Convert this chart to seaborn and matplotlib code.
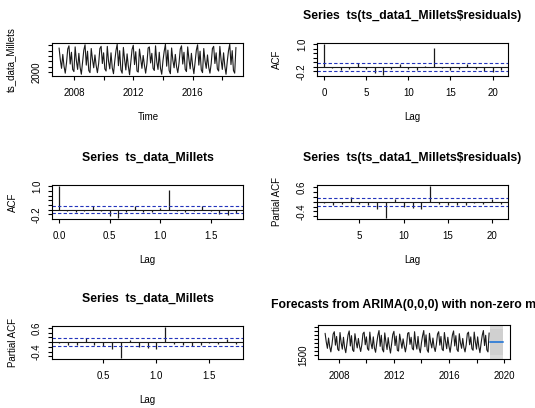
import numpy as np
import pandas as pd
import matplotlib
matplotlib.use("Agg")
import matplotlib.pyplot as plt
import seaborn as sns

# ---------------- data ----------------
start_year = 2007
freq = 12
millets = [
    4250, 3150, 2350, 3650, 2550, 1900, 2850, 4150, 4450, 2750, 3850, 2250, 2050,
    4350, 3050, 2250, 3750, 2450, 1800, 2950, 4050, 4550, 2650, 3950, 2150, 1950,
    4200, 3200, 2400, 3600, 2600, 1950, 2800, 4200, 4400, 2800, 3800, 2300, 2100,
    4400, 3000, 2300, 3800, 2400, 1850, 3000, 4000, 4600, 2600, 4000, 2200, 1900,
    4300, 3150, 2200, 3700, 2550, 1750, 2900, 4100, 4500, 2700, 3900, 2100, 2000,
    4150, 3250, 2350, 3550, 2650, 1900, 2750, 4250, 4350, 2850, 3750, 2350, 2150,
    4450, 2950, 2250, 3850, 2350, 1800, 3050, 3950, 4600, 2550, 4050, 2150, 1850,
    4250, 3100, 2400, 3650, 2500, 1950, 2850, 4150, 4450, 2750, 3850, 2250, 2050,
    4350, 3200, 2300, 3750, 2600, 1850, 2950, 4050, 4550, 2650, 3950, 2200, 1950,
    4200, 3050, 2350, 3600, 2450, 1900, 2800, 4200, 4400, 2800, 3800, 2300, 2100,
    4400, 3150, 2250, 3800, 2550, 1800, 3000, 4000, 4600, 2700, 4000, 2150, 1900,
    4300,
]
acf_lags = list(range(0, 22))
acf_vals = [1.0, -0.05, -0.12, -0.08, 0.15, -0.08, -0.28, -0.35, -0.10, 0.14, -0.10,
            -0.12, 0.05, 0.82, -0.05, -0.12, -0.08, 0.14, -0.08, -0.20, -0.22, -0.15]
pacf_lags = list(range(1, 22))
pacf_vals = [-0.05, -0.13, -0.10, 0.17, -0.10, -0.15, -0.30, -0.66, 0.10, -0.20, -0.25,
             -0.30, 0.63, -0.08, -0.12, -0.15, -0.12, -0.05, -0.08, 0.12, -0.08]
conf_limit = 0.163

fc_start = 2019
fc_h = 12
fc_mean = 3140
fc_lo80, fc_hi80 = 1500, 4800
fc_lo95, fc_hi95 = 700, 5600
fc_ylim = (1000, 5300)

titles = ["Series  ts(ts_data1_Millets$residuals)", "Series  ts_data_Millets",
          "Series  ts(ts_data1_Millets$residuals)", "Series  ts_data_Millets",
          "Forecasts from ARIMA(0,0,0) with non-zero mean"]

# ---------------- style ----------------
sns.set_style("ticks")
plt.rcParams['font.family'] = ['Liberation Sans', 'DejaVu Sans']
plt.rcParams['axes.linewidth'] = 0.8
plt.rcParams['text.color'] = 'black'
plt.rcParams['xtick.color'] = 'black'
plt.rcParams['ytick.color'] = 'black'
plt.rcParams['axes.edgecolor'] = 'black'

W, H = 535, 408
fig = plt.figure(figsize=(W / 100, H / 100), dpi=100)

def ax_at(x0, y0, x1, y1):
    return fig.add_axes([x0 / W, 1 - y1 / H, (x1 - x0) / W, (y1 - y0) / H])

def ftext(x, y, s, **kw):
    fig.text(x / W, 1 - y / H, s, ha='center', va='center', color='black', **kw)

TICK_FS = 7
LAB_FS = 7
TITLE_FS = 8.8

def r_range(vals):
    lo, hi = min(vals), max(vals)
    d = hi - lo
    return lo - 0.04 * d, hi + 0.04 * d

def style_ax(ax):
    for s in ax.spines.values():
        s.set_visible(True)
        s.set_color('black')
        s.set_linewidth(0.8)
    ax.tick_params(axis='both', direction='out', length=3.2, width=0.8, colors='black',
                   labelcolor='black', labelsize=TICK_FS, pad=5.5)
    ax.tick_params(axis='y', pad=4)
    for lab in ax.get_yticklabels():
        lab.set_rotation(90)
        lab.set_va('center')

def set_yt(ax, ticks, shown):
    ax.set_yticks(ticks)
    ax.set_yticklabels([shown.get(t, '') for t in ticks])

def set_xt(ax, ticks, shown):
    ax.set_xticks(ticks)
    ax.set_xticklabels([shown.get(t, '') for t in ticks])

time = start_year + np.arange(len(millets)) / freq
df = pd.DataFrame({'time': time, 'value': millets})

LEFT = (52, 243)
RIGHT = (317, 508)
ROWS = [(43, 76), (185, 219), (326, 359)]

# ---- Panel 1: time series ----
ax1 = ax_at(LEFT[0], ROWS[0][0], LEFT[1], ROWS[0][1])
sns.lineplot(data=df, x='time', y='value', ax=ax1, color='#1a1a1a', linewidth=0.8)
ax1.set_xlim(*r_range(list(time)))
ax1.set_ylim(*r_range(millets))
set_xt(ax1, [2008, 2010, 2012, 2014, 2016, 2018], {2008: '2008', 2012: '2012', 2016: '2016'})
set_yt(ax1, [2000, 2500, 3000, 3500, 4000, 4500], {2000: '2000'})
ax1.set_xlabel(''); ax1.set_ylabel('')
style_ax(ax1)
ftext(11, 60, 'ts_data_Millets', rotation=90, fontsize=LAB_FS)
ftext(148, 117, 'Time', fontsize=LAB_FS)

# ---- ACF / PACF panels ----
def acf_panel(x0x1, y0y1, lags, vals, title, ylabel, xticks, xshown, yticks, yshown, scale=1.0):
    ax = ax_at(x0x1[0], y0y1[0], x0x1[1], y0y1[1])
    lg = [l * scale for l in lags]
    ax.vlines(lg, 0, vals, color='#1a1a1a', linewidth=0.9)
    ax.axhline(0, color='#1a1a1a', linewidth=0.8)
    for c in (conf_limit, -conf_limit):
        ax.axhline(c, color='#2233bb', linewidth=0.8, linestyle=(0, (3, 2)))
    ax.set_xlim(*r_range(lg))
    ax.set_ylim(*r_range(list(vals) + [conf_limit, -conf_limit]))
    set_xt(ax, xticks, xshown)
    set_yt(ax, yticks, yshown)
    style_ax(ax)
    cx = (x0x1[0] + x0x1[1]) / 2
    ftext(cx, y0y1[0] - 27, title, fontsize=TITLE_FS, fontweight='bold')
    ftext(x0x1[0] - 40 if x0x1[0] > 100 else 13, (y0y1[0] + y0y1[1]) / 2, ylabel,
          rotation=90, fontsize=LAB_FS)
    ftext(cx, y0y1[1] + 41, 'Lag', fontsize=LAB_FS)
    return ax

acf_yt = [-0.2, 0.0, 0.2, 0.4, 0.6, 0.8, 1.0]
acf_ys = {-0.2: '-0.2', 1.0: '1.0'}
pacf_yt = [-0.6, -0.4, -0.2, 0.0, 0.2, 0.4, 0.6]
pacf_ys = {-0.4: '-0.4', 0.6: '0.6'}

acf_panel(RIGHT, ROWS[0], acf_lags, acf_vals, titles[0], 'ACF',
          [0, 5, 10, 15, 20], {0: '0', 5: '5', 10: '10', 15: '15', 20: '20'}, acf_yt, acf_ys)
acf_panel(LEFT, ROWS[1], acf_lags, acf_vals, titles[1], 'ACF',
          [0.0, 0.5, 1.0, 1.5], {0.0: '0.0', 0.5: '0.5', 1.0: '1.0', 1.5: '1.5'}, acf_yt, acf_ys,
          scale=1 / freq)
acf_panel(RIGHT, ROWS[1], pacf_lags, pacf_vals, titles[2], 'Partial ACF',
          [5, 10, 15, 20], {5: '5', 10: '10', 15: '15', 20: '20'}, pacf_yt, pacf_ys)
acf_panel(LEFT, ROWS[2], pacf_lags, pacf_vals, titles[3], 'Partial ACF',
          [0.5, 1.0, 1.5], {0.5: '0.5', 1.0: '1.0', 1.5: '1.5'}, pacf_yt, pacf_ys,
          scale=1 / freq)

# ---- Panel 6: forecast ----
ax6 = ax_at(318, 325, 510, 359)
fc_time = fc_start + np.arange(fc_h) / freq
ax6.fill_between(fc_time, fc_lo95, fc_hi95, color='#dadada', linewidth=0)
ax6.fill_between(fc_time, fc_lo80, fc_hi80, color='#d0d0d0', linewidth=0)
sns.lineplot(data=df, x='time', y='value', ax=ax6, color='#1a1a1a', linewidth=0.8)
sns.lineplot(x=fc_time, y=[fc_mean] * fc_h, ax=ax6, color='#3b82d6', linewidth=1.4)
ax6.set_xlim(*r_range(list(time) + list(fc_time)))
ax6.set_ylim(*fc_ylim)
set_xt(ax6, [2008, 2010, 2012, 2014, 2016, 2018, 2020],
       {2008: '2008', 2012: '2012', 2016: '2016', 2020: '2020'})
set_yt(ax6, [1500, 2000, 2500, 3000, 3500, 4000, 4500, 5000], {1500: '1500'})
ax6.set_xlabel(''); ax6.set_ylabel('')
style_ax(ax6)
# title is cut off at the right edge in the reference as well
ftext(414, 305, titles[4], fontsize=TITLE_FS, fontweight='bold')

fig.savefig('out.png', dpi=100)
